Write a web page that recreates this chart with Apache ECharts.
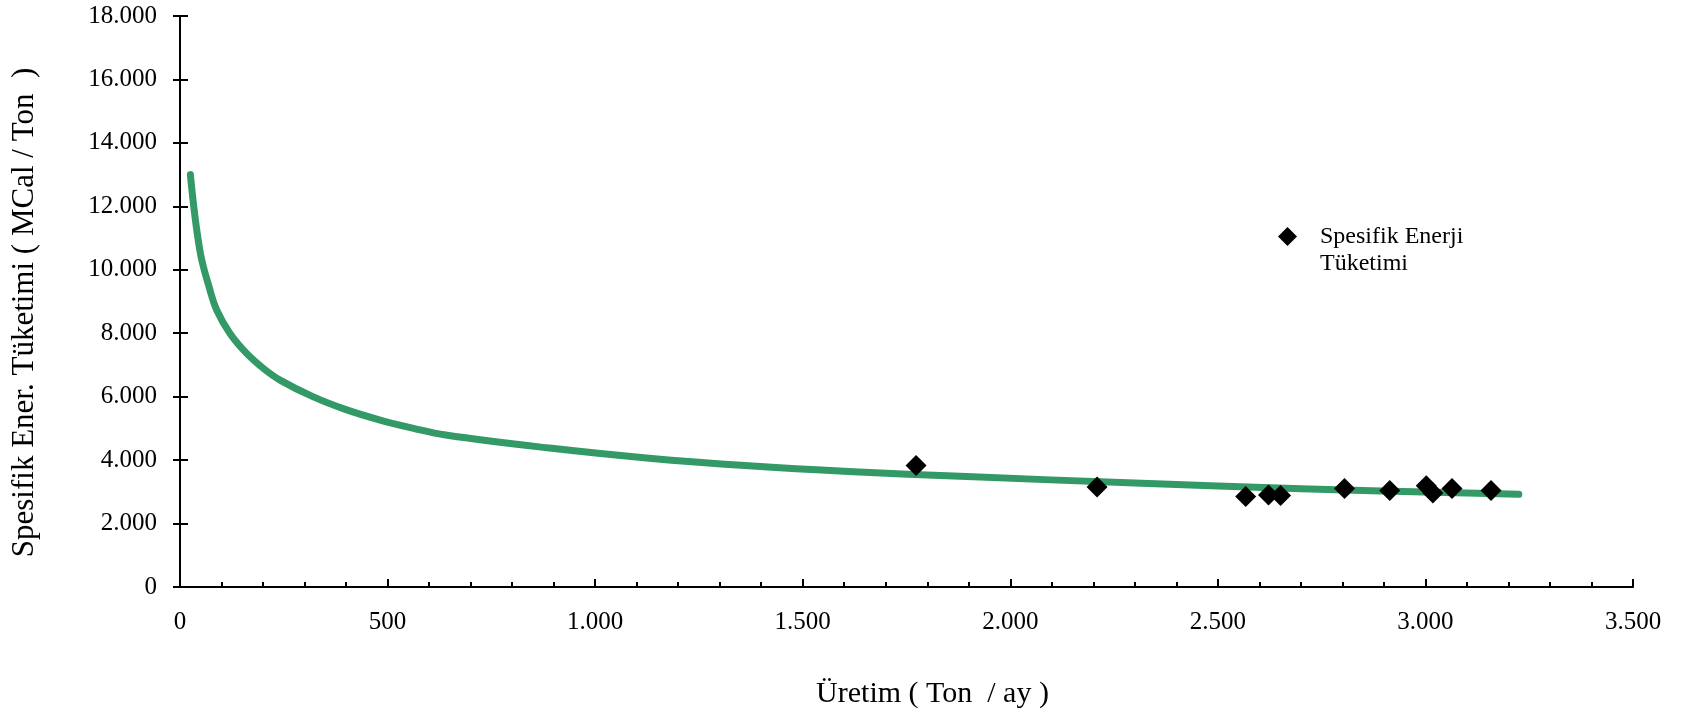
<!DOCTYPE html>
<html>
<head>
<meta charset="utf-8">
<script src="https://cdn.jsdelivr.net/npm/echarts@6/dist/echarts.min.js"></script>
<style>
  html, body { margin: 0; padding: 0; background: #fff; }
  #chart { width: 1687px; height: 718px; }
</style>
</head>
<body>
<div id="chart"></div>
<script>
// olculen noktalar (Ton/ay, MCal/Ton)
const uretim = [1773, 2209, 2567, 2622, 2651, 2805, 2914, 3002, 3018, 3064, 3158]
const tuketim = [3831, 3151, 2855, 2899, 2886, 3107, 3044, 3192, 2962, 3107, 3044]

// egilim egrisi, resimden okunan noktalar
const trendX = [25, 48, 72, 88, 120, 160, 200, 240, 320, 400, 480, 560, 640, 890, 1130, 1370, 1610, 1895, 2300, 2700, 3225]
const trendY = [13000, 10600, 9370, 8740, 8000, 7370, 6900, 6530, 6000, 5590, 5270, 5010, 4790, 4380, 4060, 3820, 3640, 3480, 3280, 3100, 2920]

const xTickLabels = ['0', '500', '1.000', '1.500', '2.000', '2.500', '3.000', '3.500']
const yTickLabels = ['0', '2.000', '4.000', '6.000', '8.000', '10.000', '12.000', '14.000', '16.000', '18.000']

const seriesName = 'Spesifik Enerji Tüketimi'
const font = 'Liberation Serif'
const axisColor = '#000'

const baseX = { type: 'value', min: 0, max: 3500, interval: 500, gridIndex: 0 }
const baseY = { type: 'value', min: 0, max: 18000, interval: 2000, gridIndex: 0 }

const option = {
    animation: false,
    backgroundColor: '#fff',
    grid: { left: 180, right: 54, top: 16, bottom: 131 },
    legend: {
        data: [seriesName],
        left: 1278, top: 196,
        padding: 0,
        itemWidth: 19, itemHeight: 19,
        // bos ilk satir: ikon ilk satirla ayni hizada kalsin
        formatter: () => '\nSpesifik Enerji\nTüketimi',
        textStyle: {
            fontFamily: font, fontSize: 24, color: '#000',
            lineHeight: 27,
            padding: [0, 0, 0, 18]
        }
    },
    xAxis: [
        Object.assign({}, baseX, {
            name: 'Üretim ( Ton  / ay )',
            nameLocation: 'middle',
            nameGap: 92,
            nameTextStyle: { fontFamily: font, fontSize: 30, color: '#000', padding: [0, 0, 0, 52] },
            axisLine: { lineStyle: { color: axisColor, width: 2 } },
            axisTick: { inside: true, length: 8, lineStyle: { width: 2, color: axisColor } },
            minorTick: { show: true, splitNumber: 5, length: 5, lineStyle: { width: 2, color: axisColor } },
            axisLabel: {
                margin: 23, fontFamily: font, fontSize: 25, color: '#000',
                formatter: v => xTickLabels[Math.round(v / 500)]
            },
            splitLine: { show: false }
        }),
        // disari dogru tik
        Object.assign({}, baseX, {
            axisLine: { show: false },
            axisTick: { inside: false, length: 8, lineStyle: { width: 2, color: axisColor } },
            axisLabel: { show: false },
            splitLine: { show: false }
        })
    ],
    yAxis: [
        Object.assign({}, baseY, {
            name: 'Spesifik Ener. Tüketimi ( MCal / Ton  )',
            nameLocation: 'middle',
            nameGap: 140,
            nameTextStyle: { fontFamily: font, fontSize: 31, color: '#000', padding: [0, 22, 0, 0] },
            axisLine: { show: true, lineStyle: { color: axisColor, width: 2 } },
            axisTick: { show: true, inside: true, length: 8, lineStyle: { width: 2, color: axisColor } },
            axisLabel: {
                margin: 23, fontFamily: font, fontSize: 25, color: '#000',
                formatter: v => yTickLabels[Math.round(v / 2000)]
            },
            splitLine: { show: false }
        }),
        Object.assign({}, baseY, {
            position: 'left',
            axisLine: { show: false },
            axisTick: { show: true, inside: false, length: 7, lineStyle: { width: 2, color: axisColor } },
            axisLabel: { show: false },
            splitLine: { show: false }
        })
    ],
    series: [
        {
            name: 'trend',
            type: 'line',
            data: trendX.map((x, i) => [x, trendY[i]]),
            smooth: 0.4,
            symbol: 'none',
            lineStyle: { color: '#339966', width: 7, cap: 'round', join: 'round' },
            z: 2
        },
        {
            name: seriesName,
            type: 'scatter',
            data: uretim.map((x, i) => [x, tuketim[i]]),
            symbol: 'diamond',
            symbolSize: 21,
            itemStyle: { color: '#000', opacity: 1 },
            z: 3
        }
    ]
}

const chart = echarts.init(document.getElementById('chart'))
chart.setOption(option)
</script>
</body>
</html>
